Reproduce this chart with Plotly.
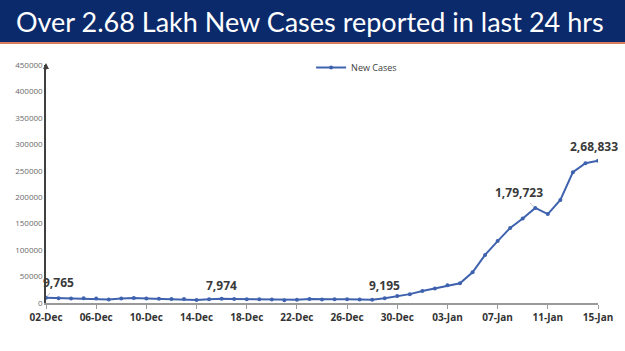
import plotly.graph_objects as go

dates = ["02-Dec","03-Dec","04-Dec","05-Dec","06-Dec","07-Dec","08-Dec","09-Dec","10-Dec","11-Dec",
         "12-Dec","13-Dec","14-Dec","15-Dec","16-Dec","17-Dec","18-Dec","19-Dec","20-Dec","21-Dec",
         "22-Dec","23-Dec","24-Dec","25-Dec","26-Dec","27-Dec","28-Dec","29-Dec","30-Dec","31-Dec",
         "01-Jan","02-Jan","03-Jan","04-Jan","05-Jan","06-Jan","07-Jan","08-Jan","09-Jan","10-Jan",
         "11-Jan","12-Jan","13-Jan","14-Jan","15-Jan"]
new_cases = [9765, 9216, 8603, 8895, 8306, 6822, 8439, 9419, 8503, 7992,
             7774, 7350, 5784, 6984, 7974, 7447, 7145, 7081, 6563, 5326,
             6317, 7495, 6650, 7189, 6987, 6531, 6358, 9195, 13154, 16764,
             22775, 27553, 33750, 37379, 58097, 90928, 117100, 141986, 159632, 179723,
             168063, 194720, 247417, 264202, 268833]
tick_labels = ["02-Dec","06-Dec","10-Dec","14-Dec","18-Dec","22-Dec","26-Dec","30-Dec",
               "03-Jan","07-Jan","11-Jan","15-Jan"]
y_ticks = [0, 50000, 100000, 150000, 200000, 250000, 300000, 350000, 400000, 450000]
title = "Over 2.68 Lakh New Cases reported in last 24 hrs"

W, H = 625, 351
L, R, T, B = 46, 21, 65, 48
pw, ph = W - L - R, H - T - B

def px(x):
    return (x - L) / pw

def py(y):
    return 1 - (y - T) / ph

LINE = "#3F62AE"
fig = go.Figure()
fig.add_trace(go.Scatter(
    x=list(range(len(dates))), y=new_cases, mode="lines+markers", name="New Cases",
    line=dict(color=LINE, width=2), marker=dict(size=4, color=LINE),
))

fig.update_layout(
    width=W, height=H, margin=dict(l=L, r=R, t=T, b=B),
    paper_bgcolor="white", plot_bgcolor="white",
    font=dict(family="Open Sans, sans-serif"),
    showlegend=True,
    legend=dict(x=px(314), y=py(53), xanchor="left", yanchor="top", orientation="h",
                font=dict(size=9, color="#404040"), bgcolor="rgba(0,0,0,0)", itemwidth=30),
    xaxis=dict(range=[0, len(dates) - 1], tickmode="array",
               tickvals=[dates.index(t) for t in tick_labels], ticktext=tick_labels,
               showgrid=False, zeroline=False, showline=True, linecolor="#9A9A9A", linewidth=1.5,
               ticks="outside", ticklen=4, tickcolor="#9A9A9A",
               tickfont=dict(size=10, color="#333333", family="Open Sans, sans-serif", weight="bold")),
    yaxis=dict(range=[0, 450000], tickmode="array", tickvals=y_ticks,
               ticktext=[str(v) for v in y_ticks], showgrid=False, zeroline=False,
               showline=True, linecolor="#404040", linewidth=1.5, ticks="",
               tickfont=dict(size=8, color="#6A6A6A")),
)

# title bar
fig.add_shape(type="rect", xref="paper", yref="paper", x0=px(-5), x1=px(W + 20), y0=py(42), y1=py(-5),
              fillcolor="#0B2A6B", line=dict(width=0), layer="above")
fig.add_shape(type="line", xref="paper", yref="paper", x0=px(-5), x1=px(W + 20), y0=py(43), y1=py(43),
              line=dict(color="#D97B5B", width=2))
fig.add_annotation(xref="paper", yref="paper", x=px(W / 2), y=py(21), text=title, showarrow=False,
                   font=dict(size=27, color="white", family="Lato, sans-serif"),
                   xanchor="center", yanchor="middle")

# y-axis arrow
fig.add_annotation(xref="paper", yref="paper", x=px(L), y=py(63), ax=0, ay=8,
                   text="", showarrow=True, arrowhead=2,
                   arrowsize=0.8, arrowwidth=1.5, arrowcolor="#404040")

ann_font = dict(size=12, color="#3A3A3A", family="Open Sans, sans-serif", weight="bold")
labels = {0: (12, -15), 14: (0, -13), 27: (0, -13), 39: (-16, -15), 44: (-4, -14)}
for i, (dx, dy) in labels.items():
    v = new_cases[i]
    s = f"{v:,}" if v < 100000 else f"{v // 100000},{(v % 100000) // 1000:02d},{v % 1000:03d}"
    if i in (0, 39):
        fig.add_annotation(x=i, y=v, text=s, showarrow=True, arrowhead=0, arrowwidth=1,
                           arrowcolor="#C8C8C8", ax=dx, ay=dy, standoff=2, font=ann_font)
    else:
        fig.add_annotation(x=i, y=v, text=s, showarrow=False, xshift=dx, yshift=-dy, font=ann_font)

fig.write_html("out.html")
